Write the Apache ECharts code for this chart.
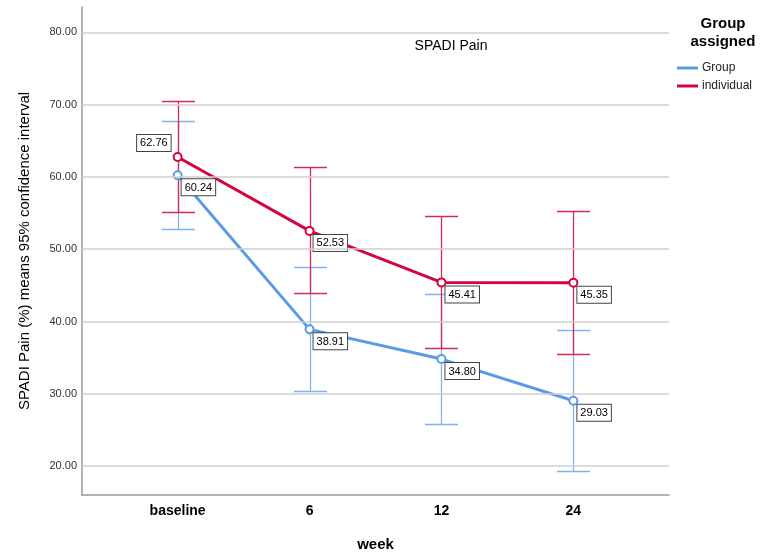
<!DOCTYPE html>
<html>
<head>
<meta charset="utf-8">
<script src="https://cdn.jsdelivr.net/npm/echarts@6/dist/echarts.min.js"></script>
<style>html,body{margin:0;padding:0;background:#fff}#c{width:760px;height:558px}</style>
</head>
<body>
<div id="c"></div>
<script>
const categories = ['baseline', '6', '12', '24'];
const yTicks = [20, 30, 40, 50, 60, 70, 80];
const groupMean = [60.24, 38.91, 34.80, 29.03];
const groupLow = [52.8, 30.4, 25.8, 19.3];
const groupHigh = [67.8, 47.6, 43.8, 38.8];
const indivMean = [62.76, 52.53, 45.41, 45.35];
const indivLow = [55.2, 44.0, 36.4, 35.5];
const indivHigh = [70.5, 61.4, 54.6, 55.3];

const BLUE = '#5b9be6', RED = '#d2073f';
const BLUE_EB = '#7fb2ee', RED_EB = '#d62a56';
const FONT = '"Liberation Sans", Arial, sans-serif';

function errData(lo, hi) { return lo.map((v, i) => [i, v, hi[i]]); }
function lineData(m) { return m.map((v, i) => [i, v]); }

function errSeries(name, lo, hi, color) {
  return {
    type: 'custom', name: name, silent: true,
    data: errData(lo, hi),
    encode: { x: 0, y: [1, 2] },
    renderItem: function (params, api) {
      const x = api.value(0);
      const a = api.coord([x, api.value(1)]);
      const b = api.coord([x, api.value(2)]);
      const cx = Math.round(a[0]) + 0.5;
      const ya = Math.round(a[1]) + 0.5, yb = Math.round(b[1]) + 0.5;
      const hw = 16.5;
      const st = { stroke: color, lineWidth: 1.3 };
      return { type: 'group', children: [
        { type: 'line', shape: { x1: cx, y1: ya, x2: cx, y2: yb }, style: st },
        { type: 'line', shape: { x1: cx - hw, y1: ya, x2: cx + hw, y2: ya }, style: st },
        { type: 'line', shape: { x1: cx - hw, y1: yb, x2: cx + hw, y2: yb }, style: st }
      ]};
    }
  };
}

const labelBase = {
  show: true,
  position: [9, 9],
  align: 'left', verticalAlign: 'top',
  fontFamily: FONT, fontSize: 11, color: '#000',
  backgroundColor: '#fff', borderColor: '#444', borderWidth: 1,
  padding: [3, 3, 2, 3],
  formatter: p => p.value[1].toFixed(2)
};

function meanSeries(name, m, color, firstLabelLeft) {
  const data = lineData(m).map((d, i) => {
    if (i === 0 && firstLabelLeft) {
      return { value: d, label: { position: [-2, -1], align: 'right', verticalAlign: 'bottom' } };
    }
    return { value: d };
  });
  return {
    type: 'line', name: name, data: data,
    symbol: 'emptyCircle', symbolSize: 8,
    lineStyle: { color: color, width: 3 },
    itemStyle: { color: color, borderWidth: 1.5 },
    label: labelBase,
    z: 3
  };
}

const chart = echarts.init(document.getElementById('c'), null, { renderer: 'canvas' });
chart.setOption({
  animation: false,
  textStyle: { fontFamily: FONT },
  title: [
    { text: 'SPADI Pain', left: 446, top: 34, textAlign: 'center',
      textStyle: { fontFamily: FONT, fontSize: 14, fontWeight: 'normal', color: '#000' } },
    { text: 'Group\nassigned', left: 718, top: 10, textAlign: 'center',
      textStyle: { fontFamily: FONT, fontSize: 15, fontWeight: 'bold', color: '#000', lineHeight: 18 } }
  ],
  legend: {
    left: 672, top: 57, orient: 'vertical', itemGap: 6,
    itemWidth: 21, itemHeight: 3, icon: 'rect',
    textStyle: { fontFamily: FONT, fontSize: 12, color: '#222', padding: [0, 0, 0, -1] },
    data: [{ name: 'Group', itemStyle: { color: BLUE } }, { name: 'individual', itemStyle: { color: RED } }]
  },
  grid: { left: 82, right: 91, top: 7, bottom: 63, containLabel: false },
  xAxis: {
    type: 'value', min: -0.725, max: 3.725,
    name: 'week', nameLocation: 'middle', nameGap: 42,
    nameTextStyle: { fontFamily: FONT, fontSize: 15, fontWeight: 'bold', color: '#000' },
    axisLine: { show: true, onZero: false, lineStyle: { color: '#999', width: 1.5 } },
    axisTick: { show: false, customValues: [0, 1, 2, 3] },
    axisLabel: { customValues: [0, 1, 2, 3], formatter: v => categories[Math.round(v)],
      fontFamily: FONT, fontSize: 14, fontWeight: 'bold', color: '#000', margin: 9 },
    splitLine: { show: false }
  },
  yAxis: {
    type: 'value', min: 16, max: 83.5,
    name: 'SPADI Pain (%) means 95% confidence interval', nameLocation: 'middle', nameGap: 50,
    nameTextStyle: { fontFamily: FONT, fontSize: 15, color: '#000' },
    axisLine: { show: true, onZero: false, lineStyle: { color: '#999', width: 1.5 } },
    axisTick: { show: false, customValues: yTicks },
    axisLabel: { customValues: yTicks, formatter: v => v.toFixed(2),
      fontFamily: FONT, fontSize: 11, color: '#333', margin: 5 },
    splitLine: { show: false }
  },
  series: [
    {
      type: 'line', name: '_grid', data: [], silent: true,
      markLine: {
        silent: true, symbol: 'none', label: { show: false },
        lineStyle: { color: '#cfcfcf', width: 1.5, type: 'solid' },
        data: yTicks.map(v => ({ yAxis: v }))
      },
      z: 1
    },
    errSeries('_eb_group', groupLow, groupHigh, BLUE_EB),
    errSeries('_eb_indiv', indivLow, indivHigh, RED_EB),
    meanSeries('Group', groupMean, BLUE, false),
    meanSeries('individual', indivMean, RED, true)
  ]
});
</script>
</body>
</html>
